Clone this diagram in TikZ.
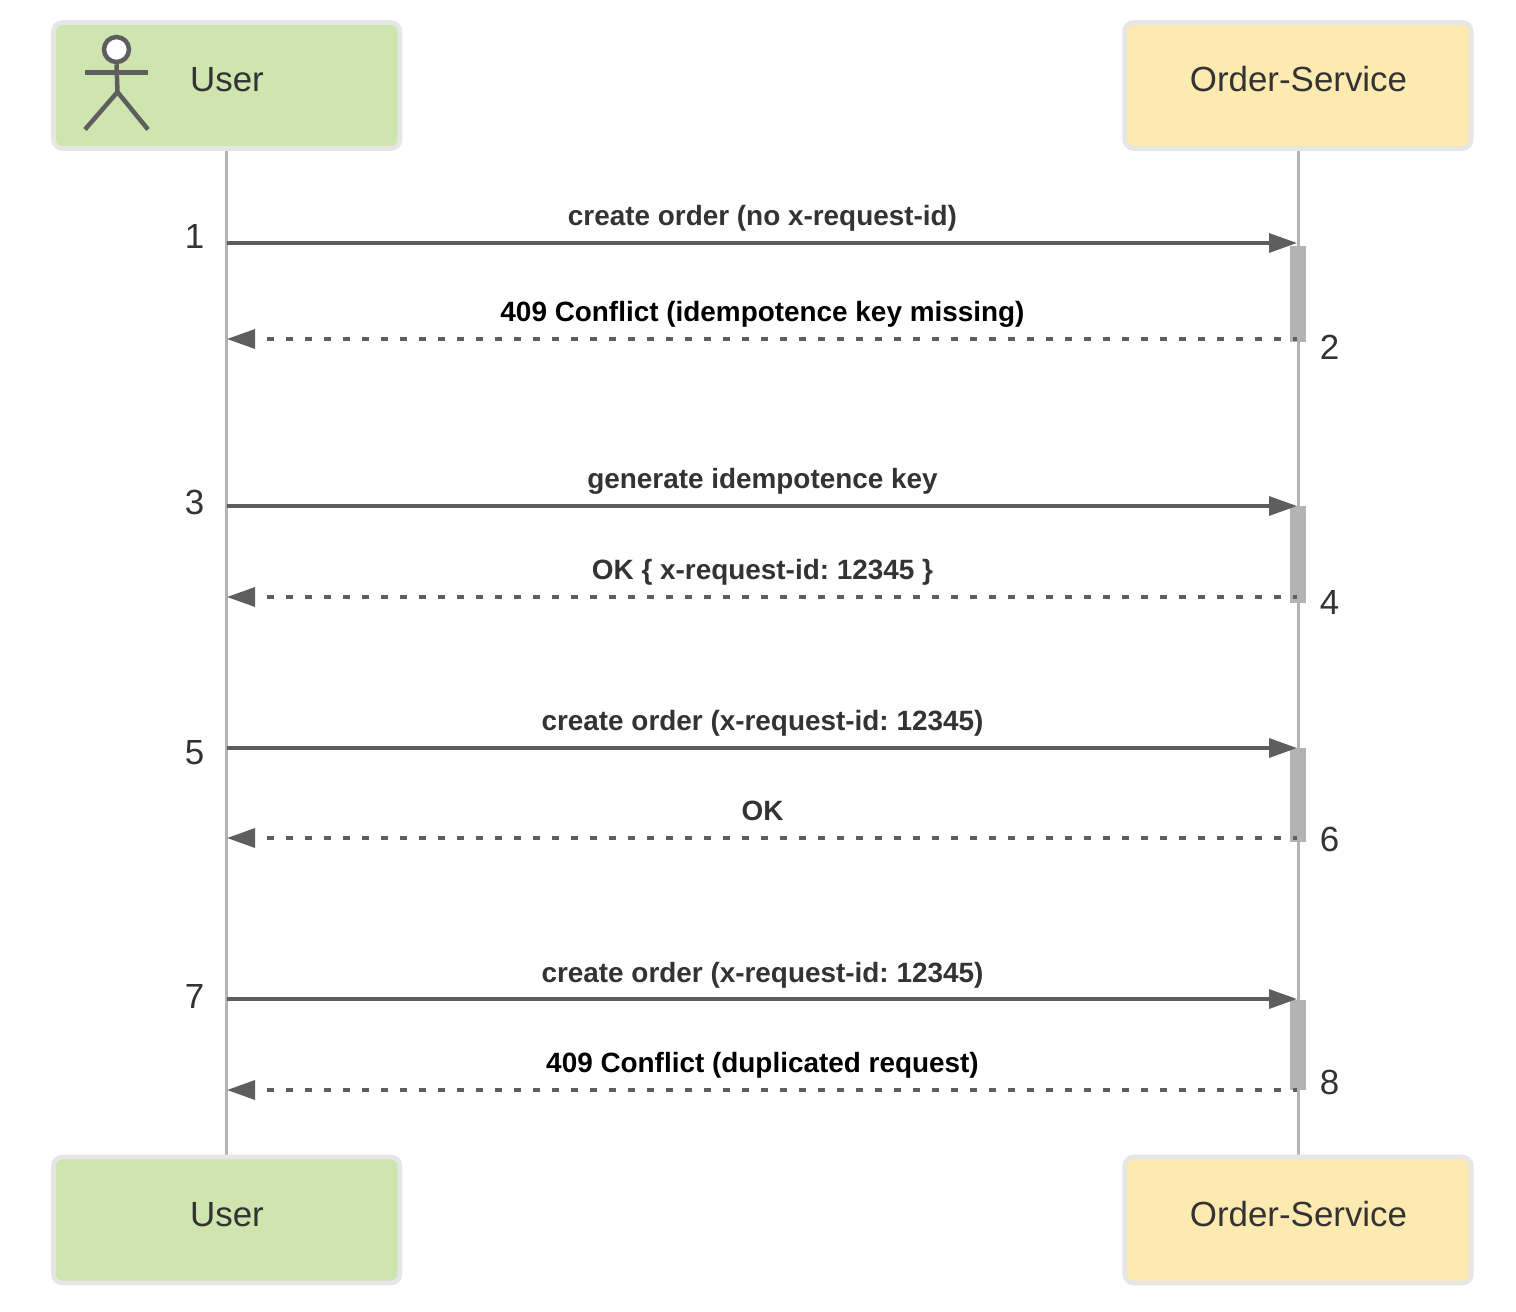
\documentclass[tikz,border=0pt]{standalone}
\usepackage{fontspec}
\setmainfont{Liberation Sans}
\usetikzlibrary{arrows.meta}
\definecolor{txt}{HTML}{333333}
\definecolor{arrowc}{HTML}{5E5E5E}
\definecolor{lifec}{HTML}{B3B3B3}
\definecolor{edgec}{HTML}{E6E6E6}
\definecolor{greenb}{HTML}{CEE5AF}
\definecolor{yellowb}{HTML}{FDEAB0}
\tikzset{
  x=1pt,y=-1pt,
  party/.style={draw=edgec,line width=4.7pt,rounded corners=9pt,minimum width=346.6pt,minimum height=126pt,inner sep=0pt,text=txt},
  userbox/.style={party,fill=greenb},
  orderbox/.style={party,fill=yellowb},
  life/.style={draw=lifec,line width=3pt},
  act/.style={fill=lifec,draw=none,minimum width=16pt,inner sep=0pt},
  msg/.style={draw=arrowc,line width=3.4pt,-{Triangle[length=28pt,width=19pt,fill=arrowc]}},
  reply/.style={msg,dash pattern=on 7pt off 12pt,dash phase=3pt},
  lab/.style={text=txt,font=\bfseries\fontsize{27.9}{32}\selectfont\frenchspacing,inner sep=0pt,anchor=base},
  blab/.style={lab,text=black},
  num/.style={text=txt,font=\fontsize{34.9}{40}\selectfont,inner sep=0pt,anchor=base},
  fig/.style={draw=arrowc,line width=4.5pt},
  nametext/.style={text=txt,font=\fontsize{34.9}{40}\selectfont,inner sep=0pt,anchor=base},
}
\begin{document}
\begin{tikzpicture}
\useasboundingbox (0,0) rectangle (1516,1312);
% lifelines first
\coordinate (ltop) at (226.5,151);
\coordinate (lbot) at (226.5,1156);
\coordinate (rtop) at (1298,151);
\coordinate (rbot) at (1298,1156);
\draw[life] (ltop) -- (lbot);
\draw[life] (rtop) -- (rbot);
% boxes
\node[userbox] (userA) at (226.7,85.5) {};
\node[orderbox] (orderA) at (1298,85.5) {};
\node[userbox] (userB) at (226.7,1220) {};
\node[orderbox] (orderB) at (1298,1220) {};
\node[nametext] (userAt) at (227,91) {User};
\node[nametext] (orderAt) at (1298.5,91) {Order-Service};
\node[nametext] (userBt) at (227,1226) {User};
\node[nametext] (orderBt) at (1298.5,1226) {Order-Service};
% actor
\node[circle,draw=arrowc,fill=white,line width=4.5pt,minimum size=25pt,inner sep=0pt] (head) at (116.5,49.5) {};
\coordinate (hip) at (117.5,92);
\coordinate (armL) at (85,72.5);
\coordinate (armR) at (148,72.5);
\coordinate (footL) at (85,129.5);
\coordinate (footR) at (148,129.5);
\draw[fig] (head.south) -- (hip);
\draw[fig] (armL) -- (armR);
\draw[fig] (footL) -- (hip) -- (footR);
% activations
\node[act,minimum height=96pt] (a1) at (1298,294) {};
\node[act,minimum height=97pt] (a2) at (1298,554) {};
\node[act,minimum height=94pt] (a3) at (1298,795) {};
\node[act,minimum height=90pt] (a4) at (1298,1045) {};
% endpoints
\foreach \n/\y in {1/243,2/339,3/506,4/597,5/748,6/838,7/999,8/1090}{
  \coordinate (u\n) at (227,\y);
  \coordinate (s\n) at (1297,\y);
}
\draw[msg] (u1) -- (s1);
\draw[reply] (s2) -- (u2);
\draw[msg] (u3) -- (s3);
\draw[reply] (s4) -- (u4);
\draw[msg] (u5) -- (s5);
\draw[reply] (s6) -- (u6);
\draw[msg] (u7) -- (s7);
\draw[reply] (s8) -- (u8);
% labels
\node[lab] (l1) at (762.5,225) {create order (no x-request-id)};
\node[blab] (l2) at (762.5,321) {409 Conflict (idempotence key missing)};
\node[lab] (l3) at (762.5,488) {generate idempotence key};
\node[lab] (l4) at (762.5,579) {OK \{ x-request-id: 12345 \}};
\node[lab] (l5) at (762.5,730) {create order (x-request-id: 12345)};
\node[lab] (l6) at (762.5,820) {OK};
\node[lab] (l7) at (762.5,982) {create order (x-request-id: 12345)};
\node[blab] (l8) at (762.5,1072) {409 Conflict (duplicated request)};
% numbers
\node[num] (n1) at (194.5,248) {1};
\node[num] (n2) at (1329.5,359.5) {2};
\node[num] (n3) at (194.5,514) {3};
\node[num] (n4) at (1329.5,614) {4};
\node[num] (n5) at (194.5,764) {5};
\node[num] (n6) at (1329.5,851) {6};
\node[num] (n7) at (194.5,1008) {7};
\node[num] (n8) at (1329.5,1094) {8};
\end{tikzpicture}
\end{document}
